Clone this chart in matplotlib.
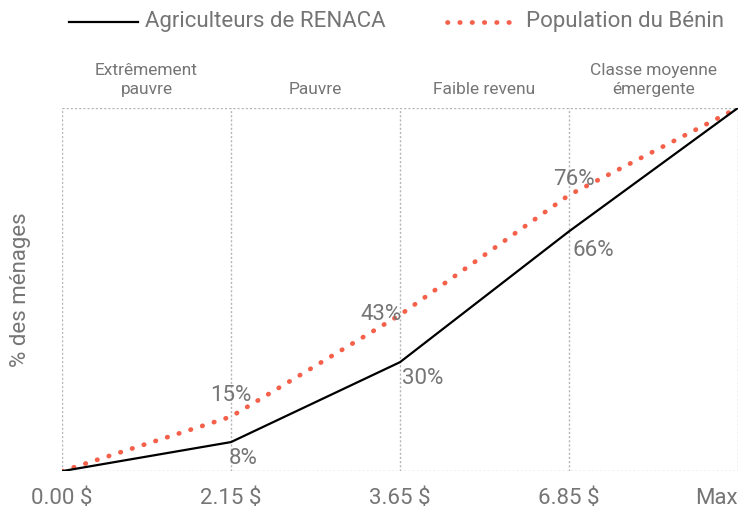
import matplotlib.pyplot as plt
from matplotlib.lines import Line2D

plt.rcParams["font.family"] = ["Roboto", "DejaVu Sans"]

ticks = ["0.00 $", "2.15 $", "3.65 $", "6.85 $", "Max"]
renaca = [0, 8, 30, 66, 100]
benin = [0, 15, 43, 76, 100]
categories = ["Extrêmement\npauvre", "Pauvre", "Faible revenu", "Classe moyenne\némergente"]
series_names = ["Agriculteurs de RENACA", "Population du Bénin"]

grey = "#757575"
red = "#f4604a"
dots = (0, (0.1, 2.5))

fig = plt.figure(figsize=(7.43, 5.11), dpi=100)
ax = fig.add_axes([0.0834, 0.078, 0.910, 0.711])
x = range(len(ticks))

# lines
ax.plot(x, renaca, color="black", lw=1.6, zorder=3)
ax.plot(x, benin, color=red, lw=3.4, linestyle=dots,
        dash_capstyle="round", zorder=2)

# dotted grid / frame
for xi in x:
    ax.axvline(xi, color="#b5b5b5", lw=1, linestyle=(0, (1.5, 1.5)), zorder=1)
for y in (0, 100):
    ax.axhline(y, color="#b5b5b5", lw=1, linestyle=(0, (1.5, 1.5)), zorder=1)

ax.set_xlim(0, 4)
ax.set_ylim(0, 100)
for s in ax.spines.values():
    s.set_visible(False)
ax.set_yticks([])
ax.set_xticks(list(x))
ax.set_xticklabels(ticks, fontsize=16, color=grey)
ax.tick_params(axis="x", length=0, pad=12)
ax.get_xticklabels()[-1].set_horizontalalignment("right")
ax.get_xticklabels()[-1].set_x(4.02)
ax.set_ylabel("% des ménages", fontsize=16, color=grey, labelpad=22)

# value labels
lab = dict(fontsize=16, color=grey)
ax.text(1, benin[1] + 3, f"{benin[1]}%", ha="center", va="bottom", **lab)
ax.text(1.07, renaca[1] - 1.5, f"{renaca[1]}%", ha="center", va="top", **lab)
ax.text(2.01, benin[2], f"{benin[2]}%", ha="right", va="center", **lab)
ax.text(2.01, renaca[2] - 1.5, f"{renaca[2]}%", ha="left", va="top", **lab)
ax.text(3.03, benin[3] + 1.5, f"{benin[3]}%", ha="center", va="bottom", **lab)
ax.text(3.02, renaca[3] - 2.5, f"{renaca[3]}%", ha="left", va="top", **lab)

# category headers
for i, c in enumerate(categories):
    ax.text(i + 0.5, 103, c, ha="center", va="bottom", fontsize=12.5,
            color=grey, linespacing=1.35)

# legend drawn by hand in figure pixels
W, H = 743, 511
ly = 1 - 22 / H
fig.add_artist(Line2D([69 / W, 138 / W], [ly, ly], color="black", lw=1.6))
fig.add_artist(Line2D([447 / W, 514 / W], [ly, ly], color=red, lw=3.4,
                      linestyle=dots, dash_capstyle="round"))
fig.text(145 / W, ly, series_names[0], fontsize=16, color=grey, va="center")
fig.text(526 / W, ly, series_names[1], fontsize=16, color=grey, va="center")

fig.savefig("out.png", dpi=100)
